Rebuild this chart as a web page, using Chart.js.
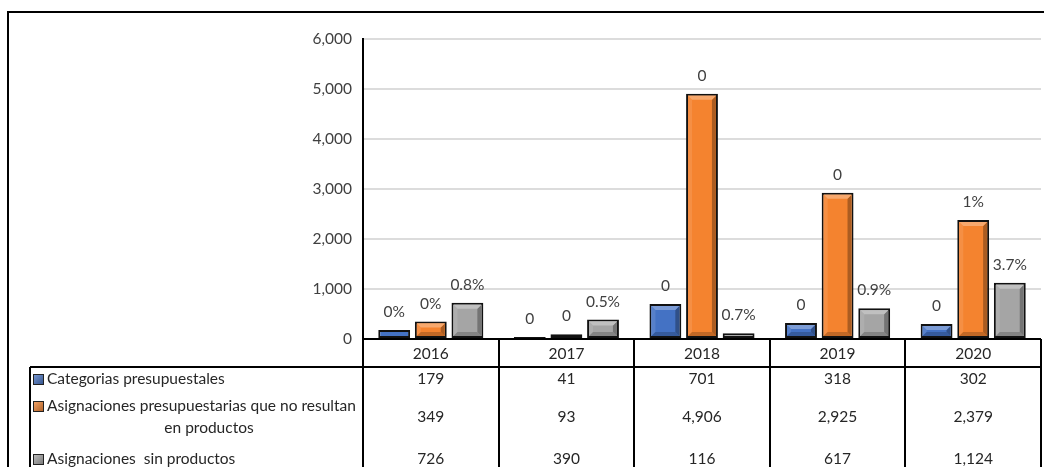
<!DOCTYPE html>
<html>
<head>
<meta charset="utf-8">
<script src="https://cdn.jsdelivr.net/npm/chart.js@4.4.1/dist/chart.umd.min.js"></script>
<style>
    html, body { margin: 0; padding: 0; background: #fff; }
    #wrap { width: 1044px; height: 467px; position: relative; }
</style>
</head>
<body>
<div id="wrap"><canvas id="chart" width="1044" height="467"></canvas></div>
<script>
// data
const years = ['2016', '2017', '2018', '2019', '2020'];
const seriesNames = [
    'Categorias presupuestales',
    'Asignaciones presupuestarias que no resultan\nen productos',
    'Asignaciones  sin productos'
];
const categorias = [179, 41, 701, 318, 302];
const sinResultado = [349, 93, 4906, 2925, 2379];
const sinProductos = [726, 390, 116, 617, 1124];
// labels shown above the bars
const labelsCategorias = ['0%', '0', '0', '0', '0'];
const labelsSinResultado = ['0%', '0', '0', '0', '1%'];
const labelsSinProductos = ['0.8%', '0.5%', '0.7%', '0.9%', '3.7%'];
const yMax = 6000;
const yStep = 1000;

const colors = ['#4472C4', '#F4832F', '#A5A5A5'];
const FONT = 'Lato';
const FSIZE = 15.5;
const TXT = '#404040';

function mix(hex, amt) {
    let n = parseInt(hex.slice(1), 16);
    let r = n >> 16, g = (n >> 8) & 255, b = n & 255;
    let t = amt > 0 ? 255 : 0, a = Math.abs(amt);
    r = Math.round(r + (t - r) * a);
    g = Math.round(g + (t - g) * a);
    b = Math.round(b + (t - b) * a);
    return 'rgb(' + r + ',' + g + ',' + b + ')';
}

function poly(ctx, pts, fill) {
    ctx.beginPath();
    ctx.moveTo(pts[0][0], pts[0][1]);
    for (let i = 1; i < pts.length; i++) ctx.lineTo(pts[i][0], pts[i][1]);
    ctx.closePath();
    ctx.fillStyle = fill;
    ctx.fill();
}

// excel-like bevel on each bar + the value labels above
const bevelPlugin = {
    id: 'bevel',
    afterDatasetsDraw(chart) {
        const ctx = chart.ctx;
        const allLabels = [labelsCategorias, labelsSinResultado, labelsSinProductos];
        ctx.save();
        chart.data.datasets.forEach((ds, di) => {
            const meta = chart.getDatasetMeta(di);
            meta.data.forEach((el, i) => {
                const p = el.getProps(['x', 'y', 'base', 'width'], true);
                const l = p.x - p.width / 2 + 2, r = p.x + p.width / 2 - 2;
                const t = p.y + 2, b = p.base - 2;
                const h = b - t;
                if (h > 4) {
                    const bv = Math.min(4, h / 2);
                    const c = colors[di];
                    poly(ctx, [[l, t], [l + bv, t + bv], [l + bv, b - bv], [l, b]], mix(c, 0.1));
                    poly(ctx, [[l, b], [r, b], [r - bv, b - bv], [l + bv, b - bv]], mix(c, -0.2));
                    poly(ctx, [[r, t], [r, b], [r - bv, b - bv], [r - bv, t + bv]], mix(c, -0.3));
                    poly(ctx, [[l, t], [r, t], [r - bv, t + bv], [l + bv, t + bv]], mix(c, 0.3));
                }
                ctx.font = FSIZE + 'px ' + FONT;
                ctx.fillStyle = TXT;
                ctx.textAlign = 'center';
                ctx.textBaseline = 'middle';
                ctx.fillText(allLabels[di][i], p.x, p.y - 18);
            });
        });
        ctx.restore();
    }
};

// data table below the plot and the outer frame
const tablePlugin = {
    id: 'dataTable',
    afterDraw(chart) {
        const ctx = chart.ctx;
        const xs = chart.scales.x;
        const area = chart.chartArea;
        const n = years.length;
        const cw = (xs.right - xs.left) / n;
        const tableLeft = 30, rowTop = 367, bottomY = 480;

        ctx.save();
        ctx.strokeStyle = '#000';
        ctx.lineWidth = 2;
        ctx.strokeRect(8, 12, 1100, 520);

        ctx.beginPath();
        ctx.moveTo(xs.left, area.bottom);
        ctx.lineTo(xs.right, area.bottom);
        ctx.moveTo(tableLeft, rowTop);
        ctx.lineTo(xs.right, rowTop);
        ctx.moveTo(tableLeft, rowTop);
        ctx.lineTo(tableLeft, bottomY);
        for (let i = 0; i <= n; i++) {
            const x = Math.round(xs.left + i * cw);
            ctx.moveTo(x, i === 0 ? area.top : area.bottom);
            ctx.lineTo(x, bottomY);
        }
        ctx.stroke();

        const rowY = [379, 417, 459];
        const firstLineY = [379, 406, 459];
        const values = [categorias, sinResultado, sinProductos];
        ctx.font = FSIZE + 'px ' + FONT;
        ctx.textBaseline = 'middle';
        for (let s = 0; s < 3; s++) {
            // legend key
            const ky = firstLineY[s] - 5;
            const g = ctx.createLinearGradient(33, ky, 44, ky + 11);
            g.addColorStop(0, mix(colors[s], 0.3));
            g.addColorStop(1, mix(colors[s], -0.3));
            ctx.fillStyle = g;
            ctx.fillRect(33, ky, 10, 10);
            ctx.lineWidth = 1;
            ctx.strokeStyle = '#222';
            ctx.strokeRect(33.5, ky + 0.5, 10, 10);

            const lines = seriesNames[s].split('\n');
            ctx.fillStyle = '#262626';
            ctx.textAlign = 'left';
            ctx.fillText(lines[0], 47, firstLineY[s]);
            if (lines[1]) {
                ctx.textAlign = 'center';
                ctx.fillText(lines[1], 209, firstLineY[s] + 22);
            }
            ctx.textAlign = 'center';
            for (let i = 0; i < n; i++) {
                ctx.fillText(values[s][i].toLocaleString('en-US'), xs.getPixelForValue(i), rowY[s]);
            }
        }
        ctx.restore();
    }
};

new Chart(document.getElementById('chart'), {
    type: 'bar',
    data: {
        labels: years,
        datasets: [
            { label: seriesNames[0], data: categorias, backgroundColor: colors[0] },
            { label: seriesNames[1], data: sinResultado, backgroundColor: colors[1] },
            { label: seriesNames[2], data: sinProductos, backgroundColor: colors[2] }
        ].map(d => Object.assign(d, {
            borderColor: '#111',
            borderWidth: 2,
            borderSkipped: false,
            categoryPercentage: 0.81,
            barPercentage: 0.87
        }))
    },
    options: {
        responsive: false,
        animation: false,
        layout: { padding: { left: 0, right: 3, top: 39, bottom: 0 } },
        plugins: {
            legend: { display: false },
            tooltip: { enabled: false }
        },
        scales: {
            x: {
                grid: { display: false, drawTicks: false },
                border: { display: false },
                ticks: { color: '#262626', font: { family: FONT, size: FSIZE }, padding: 6, maxRotation: 0 },
                afterFit(scale) { scale.height = 128; }
            },
            y: {
                min: 0,
                max: yMax,
                grid: { color: '#DCDCDC', lineWidth: 2, drawTicks: false },
                border: { display: true, color: '#000', width: 2 },
                ticks: {
                    stepSize: yStep,
                    color: TXT,
                    padding: 11,
                    font: { family: FONT, size: FSIZE },
                    callback: v => v.toLocaleString('en-US')
                },
                afterFit(scale) { scale.width = 363; }
            }
        }
    },
    plugins: [bevelPlugin, tablePlugin]
});
</script>
</body>
</html>
